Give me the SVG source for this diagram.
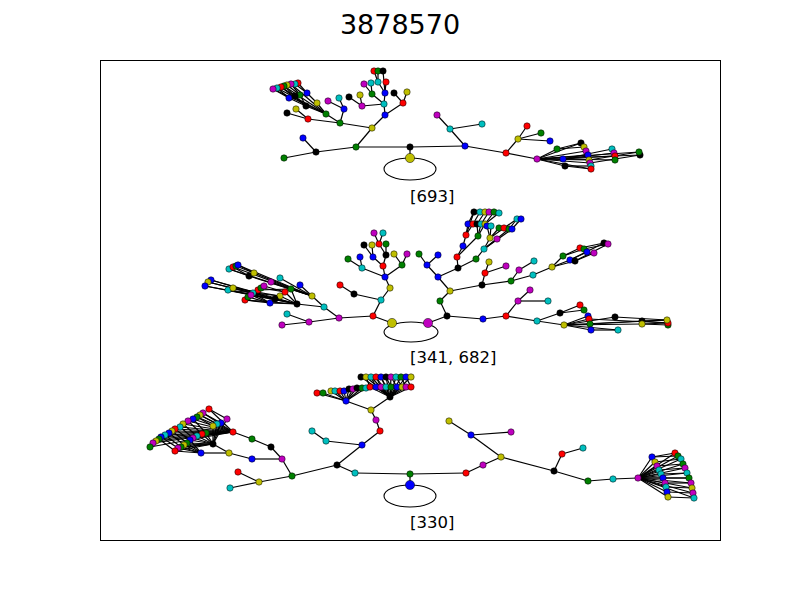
<svg xmlns="http://www.w3.org/2000/svg" width="800" height="600" viewBox="0 0 800 600">
<style>
.e line{stroke:#000;stroke-width:1.2}
.loop{fill:none;stroke:#000;stroke-width:1.1}
circle{stroke:#000;stroke-width:0.5}
.b{fill:#0000ff}.g{fill:#008000}.r{fill:#ff0000}.c{fill:#00bfbf}.m{fill:#bf00bf}.y{fill:#bfbf00}.k{fill:#000}
text{font-family:"DejaVu Sans","Liberation Sans",sans-serif;fill:#000}
</style>
<rect width="800" height="600" fill="#fff"/>
<rect x="100.5" y="60.5" width="620" height="480" fill="none" stroke="#000" stroke-width="1"/>
<text x="400" y="34" font-size="27" text-anchor="middle">3878570</text>
<g id="connectors">
<g class="e">
<line x1="410" y1="158" x2="410" y2="147"/><line x1="410" y1="147" x2="356" y2="147"/><line x1="410" y1="147" x2="465" y2="146"/>
<line x1="356" y1="147" x2="316" y2="152"/><line x1="356" y1="147" x2="372" y2="128"/><line x1="316" y1="152" x2="284" y2="158"/>
<line x1="316" y1="152" x2="303" y2="138"/><line x1="372" y1="128" x2="340" y2="123"/><line x1="372" y1="128" x2="385" y2="115"/>
<line x1="385" y1="115" x2="384" y2="104"/><line x1="385" y1="115" x2="403" y2="103"/><line x1="403" y1="103" x2="394" y2="93"/>
<line x1="403" y1="103" x2="407" y2="92"/><line x1="384" y1="104" x2="385" y2="93"/><line x1="385" y1="93" x2="386" y2="82"/>
<line x1="385" y1="93" x2="378" y2="82"/><line x1="378" y1="82" x2="378" y2="71"/><line x1="378" y1="82" x2="374" y2="71"/>
<line x1="385" y1="93" x2="383" y2="71"/><line x1="384" y1="104" x2="372" y2="94"/><line x1="372" y1="94" x2="364" y2="84"/>
<line x1="372" y1="94" x2="371" y2="83"/><line x1="384" y1="104" x2="362" y2="106"/><line x1="362" y1="106" x2="349" y2="97"/>
<line x1="362" y1="106" x2="360" y2="95"/><line x1="340" y1="123" x2="326" y2="114"/><line x1="340" y1="123" x2="308" y2="119"/>
<line x1="340" y1="123" x2="344" y2="109"/><line x1="344" y1="109" x2="339" y2="98"/><line x1="344" y1="109" x2="328" y2="101"/>
<line x1="308" y1="119" x2="287" y2="113"/><line x1="308" y1="119" x2="296" y2="109"/><line x1="326" y1="114" x2="317" y2="103"/>
<line x1="326" y1="114" x2="306" y2="106"/><line x1="317" y1="103" x2="307" y2="93"/><line x1="306" y1="106" x2="289" y2="98"/>
<line x1="306" y1="106" x2="300" y2="95"/><line x1="306" y1="106" x2="295" y2="96"/><line x1="289" y1="98" x2="273" y2="89"/>
<line x1="289" y1="98" x2="277" y2="88"/><line x1="295" y1="96" x2="281" y2="87"/><line x1="295" y1="96" x2="284" y2="86"/>
<line x1="300" y1="95" x2="287" y2="85"/><line x1="300" y1="95" x2="291" y2="84"/><line x1="307" y1="93" x2="295" y2="84"/>
<line x1="307" y1="93" x2="298" y2="83"/><line x1="326" y1="114" x2="277" y2="88"/><line x1="326" y1="114" x2="284" y2="86"/>
<line x1="326" y1="114" x2="291" y2="84"/><line x1="326" y1="114" x2="273" y2="89"/><line x1="306" y1="106" x2="281" y2="87"/>
<line x1="465" y1="146" x2="450" y2="129"/><line x1="465" y1="146" x2="506" y2="153"/><line x1="450" y1="129" x2="437" y2="115"/>
<line x1="450" y1="129" x2="482" y2="124"/><line x1="506" y1="153" x2="518" y2="139"/><line x1="506" y1="153" x2="537" y2="159"/>
<line x1="518" y1="139" x2="527" y2="126"/><line x1="518" y1="139" x2="541" y2="133"/><line x1="518" y1="139" x2="550" y2="141"/>
<line x1="537" y1="159" x2="557" y2="149"/><line x1="537" y1="159" x2="563" y2="159"/><line x1="537" y1="159" x2="565" y2="166"/>
<line x1="557" y1="149" x2="581" y2="143"/><line x1="557" y1="149" x2="584" y2="147"/><line x1="537" y1="159" x2="586" y2="151"/>
<line x1="537" y1="159" x2="588" y2="155"/><line x1="537" y1="159" x2="589" y2="160"/><line x1="537" y1="159" x2="590" y2="163"/>
<line x1="565" y1="166" x2="591" y2="166"/><line x1="565" y1="166" x2="591" y2="169"/><line x1="563" y1="159" x2="612" y2="149"/>
<line x1="563" y1="159" x2="614" y2="153"/><line x1="563" y1="159" x2="615" y2="156"/><line x1="563" y1="159" x2="615" y2="160"/>
<line x1="537" y1="159" x2="639" y2="152"/><line x1="537" y1="159" x2="640" y2="155"/><line x1="537" y1="159" x2="581" y2="143"/>
<line x1="537" y1="159" x2="591" y2="169"/><line x1="589" y1="160" x2="639" y2="152"/><line x1="590" y1="163" x2="640" y2="155"/>

<line x1="392" y1="323" x2="373" y2="316"/><line x1="428" y1="323" x2="447" y2="316"/><line x1="373" y1="316" x2="339" y2="318"/>
<line x1="373" y1="316" x2="381" y2="300"/><line x1="339" y1="318" x2="309" y2="322"/><line x1="339" y1="318" x2="324" y2="307"/>
<line x1="309" y1="322" x2="282" y2="325"/><line x1="309" y1="322" x2="287" y2="314"/><line x1="324" y1="307" x2="312" y2="296"/>
<line x1="324" y1="307" x2="297" y2="304"/><line x1="312" y1="296" x2="300" y2="285"/><line x1="312" y1="296" x2="280" y2="278"/>
<line x1="312" y1="296" x2="271" y2="282"/><line x1="312" y1="296" x2="249" y2="276"/><line x1="312" y1="296" x2="254" y2="273"/>
<line x1="249" y1="276" x2="229" y2="269"/><line x1="249" y1="276" x2="233" y2="267"/><line x1="254" y1="273" x2="236" y2="266"/>
<line x1="254" y1="273" x2="238" y2="265"/><line x1="312" y1="296" x2="233" y2="267"/><line x1="312" y1="296" x2="238" y2="265"/>
<line x1="312" y1="296" x2="229" y2="269"/>
<line x1="297" y1="304" x2="270" y2="303"/><line x1="297" y1="304" x2="280" y2="296"/><line x1="297" y1="304" x2="275" y2="299"/>
<line x1="297" y1="304" x2="285" y2="292"/><line x1="297" y1="304" x2="291" y2="289"/><line x1="270" y1="303" x2="245" y2="300"/>
<line x1="270" y1="303" x2="248" y2="297"/><line x1="275" y1="299" x2="205" y2="286"/><line x1="275" y1="299" x2="208" y2="282"/>
<line x1="275" y1="299" x2="211" y2="280"/><line x1="297" y1="304" x2="205" y2="286"/><line x1="297" y1="304" x2="211" y2="280"/>
<line x1="297" y1="304" x2="208" y2="282"/><line x1="297" y1="304" x2="228" y2="290"/><line x1="297" y1="304" x2="245" y2="300"/>
<line x1="280" y1="296" x2="228" y2="290"/><line x1="280" y1="296" x2="233" y2="288"/><line x1="285" y1="292" x2="261" y2="288"/>
<line x1="285" y1="292" x2="264" y2="286"/><line x1="291" y1="289" x2="258" y2="290"/><line x1="270" y1="303" x2="253" y2="293"/>
<line x1="270" y1="303" x2="251" y2="295"/>
<line x1="381" y1="300" x2="390" y2="288"/><line x1="381" y1="300" x2="354" y2="294"/><line x1="354" y1="294" x2="340" y2="285"/>
<line x1="390" y1="288" x2="385" y2="277"/><line x1="385" y1="277" x2="362" y2="268"/><line x1="385" y1="277" x2="383" y2="266"/>
<line x1="385" y1="277" x2="402" y2="265"/><line x1="362" y1="268" x2="348" y2="259"/><line x1="362" y1="268" x2="360" y2="257"/>
<line x1="383" y1="266" x2="373" y2="257"/><line x1="383" y1="266" x2="386" y2="255"/><line x1="386" y1="255" x2="386" y2="244"/>
<line x1="386" y1="255" x2="379" y2="244"/><line x1="373" y1="257" x2="372" y2="245"/><line x1="373" y1="257" x2="364" y2="245"/>
<line x1="379" y1="244" x2="374" y2="233"/><line x1="379" y1="244" x2="383" y2="233"/><line x1="402" y1="265" x2="394" y2="254"/>
<line x1="402" y1="265" x2="407" y2="254"/>
<line x1="447" y1="316" x2="440" y2="301"/><line x1="447" y1="316" x2="483" y2="319"/><line x1="483" y1="319" x2="506" y2="316"/>
<line x1="506" y1="316" x2="518" y2="301"/><line x1="506" y1="316" x2="537" y2="321"/><line x1="518" y1="301" x2="530" y2="290"/>
<line x1="518" y1="301" x2="548" y2="301"/><line x1="537" y1="321" x2="560" y2="313"/><line x1="537" y1="321" x2="564" y2="325"/>
<line x1="560" y1="313" x2="580" y2="305"/><line x1="560" y1="313" x2="584" y2="310"/><line x1="564" y1="325" x2="588" y2="316"/>
<line x1="564" y1="325" x2="589" y2="319"/><line x1="564" y1="325" x2="590" y2="324"/><line x1="564" y1="325" x2="591" y2="330"/>
<line x1="591" y1="330" x2="618" y2="330"/><line x1="564" y1="325" x2="615" y2="317"/><line x1="564" y1="325" x2="642" y2="321"/>
<line x1="564" y1="325" x2="642" y2="324"/><line x1="615" y1="317" x2="667" y2="320"/><line x1="642" y1="321" x2="668" y2="323"/>
<line x1="642" y1="324" x2="668" y2="325"/><line x1="642" y1="321" x2="667" y2="320"/><line x1="642" y1="324" x2="668" y2="323"/>
<line x1="564" y1="325" x2="618" y2="330"/><line x1="590" y1="324" x2="667" y2="320"/><line x1="589" y1="319" x2="668" y2="323"/>
<line x1="440" y1="301" x2="450" y2="291"/><line x1="450" y1="291" x2="438" y2="277"/><line x1="450" y1="291" x2="482" y2="285"/>
<line x1="438" y1="277" x2="427" y2="265"/><line x1="438" y1="277" x2="458" y2="268"/><line x1="427" y1="265" x2="419" y2="254"/>
<line x1="427" y1="265" x2="438" y2="255"/><line x1="458" y1="268" x2="457" y2="257"/><line x1="458" y1="268" x2="476" y2="259"/>
<line x1="457" y1="257" x2="463" y2="246"/><line x1="463" y1="246" x2="466" y2="235"/><line x1="466" y1="235" x2="468" y2="224"/>
<line x1="466" y1="235" x2="473" y2="224"/><line x1="457" y1="257" x2="478" y2="236"/><line x1="478" y1="236" x2="477" y2="224"/>
<line x1="478" y1="236" x2="481" y2="224"/><line x1="478" y1="236" x2="485" y2="224"/><line x1="468" y1="224" x2="474" y2="212"/>
<line x1="473" y1="224" x2="480" y2="212"/><line x1="477" y1="224" x2="485" y2="212"/><line x1="481" y1="224" x2="489" y2="212"/>
<line x1="485" y1="224" x2="494" y2="212"/><line x1="485" y1="224" x2="499" y2="213"/><line x1="476" y1="259" x2="484" y2="249"/>
<line x1="466" y1="235" x2="474" y2="212"/>
<line x1="484" y1="249" x2="490" y2="238"/><line x1="484" y1="249" x2="497" y2="239"/><line x1="490" y1="238" x2="487" y2="226"/>
<line x1="490" y1="238" x2="491" y2="226"/><line x1="490" y1="238" x2="499" y2="228"/><line x1="490" y1="238" x2="504" y2="228"/>
<line x1="484" y1="249" x2="509" y2="229"/><line x1="484" y1="249" x2="512" y2="229"/><line x1="509" y1="229" x2="517" y2="219"/>
<line x1="512" y1="229" x2="521" y2="219"/><line x1="504" y1="228" x2="517" y2="219"/>
<line x1="482" y1="285" x2="485" y2="273"/><line x1="482" y1="285" x2="511" y2="281"/><line x1="485" y1="273" x2="489" y2="262"/>
<line x1="485" y1="273" x2="506" y2="266"/><line x1="511" y1="281" x2="519" y2="270"/><line x1="519" y1="270" x2="534" y2="261"/>
<line x1="511" y1="281" x2="533" y2="275"/><line x1="533" y1="275" x2="552" y2="267"/><line x1="552" y1="267" x2="563" y2="256"/>
<line x1="552" y1="267" x2="570" y2="260"/><line x1="552" y1="267" x2="575" y2="261"/><line x1="563" y1="256" x2="580" y2="248"/>
<line x1="563" y1="256" x2="584" y2="249"/><line x1="570" y1="260" x2="587" y2="252"/><line x1="575" y1="261" x2="594" y2="253"/>
<line x1="580" y1="248" x2="604" y2="243"/><line x1="584" y1="249" x2="608" y2="244"/><line x1="570" y1="260" x2="604" y2="243"/>
<line x1="575" y1="261" x2="608" y2="244"/>

<line x1="410" y1="485" x2="410" y2="474"/><line x1="410" y1="474" x2="355" y2="473"/><line x1="410" y1="474" x2="466" y2="473"/>
<line x1="355" y1="473" x2="337" y2="465"/><line x1="337" y1="465" x2="362" y2="445"/><line x1="337" y1="465" x2="292" y2="476"/>
<line x1="362" y1="445" x2="326" y2="441"/><line x1="362" y1="445" x2="380" y2="431"/><line x1="326" y1="441" x2="312" y2="431"/>
<line x1="380" y1="431" x2="376" y2="420"/><line x1="376" y1="420" x2="371" y2="410"/><line x1="371" y1="410" x2="346" y2="401"/>
<line x1="371" y1="410" x2="390" y2="397"/>
<line x1="346" y1="401" x2="317" y2="393"/><line x1="346" y1="401" x2="323" y2="393"/><line x1="346" y1="401" x2="331" y2="391"/>
<line x1="346" y1="401" x2="335" y2="391"/><line x1="346" y1="401" x2="340" y2="391"/><line x1="346" y1="401" x2="344" y2="391"/>
<line x1="346" y1="401" x2="349" y2="389"/><line x1="346" y1="401" x2="353" y2="389"/><line x1="346" y1="401" x2="357" y2="388"/>
<line x1="346" y1="401" x2="362" y2="388"/><line x1="346" y1="401" x2="366" y2="388"/>
<line x1="390" y1="397" x2="370" y2="387"/><line x1="390" y1="397" x2="376" y2="387"/><line x1="390" y1="397" x2="381" y2="387"/>
<line x1="390" y1="397" x2="386" y2="387"/><line x1="390" y1="397" x2="391" y2="387"/><line x1="390" y1="397" x2="397" y2="387"/>
<line x1="390" y1="397" x2="402" y2="387"/><line x1="390" y1="397" x2="406" y2="387"/><line x1="390" y1="397" x2="411" y2="387"/>
<line x1="390" y1="397" x2="361" y2="377"/><line x1="390" y1="397" x2="366" y2="377"/><line x1="390" y1="397" x2="371" y2="377"/>
<line x1="390" y1="397" x2="376" y2="377"/><line x1="390" y1="397" x2="381" y2="377"/><line x1="390" y1="397" x2="386" y2="377"/>
<line x1="390" y1="397" x2="391" y2="377"/><line x1="390" y1="397" x2="396" y2="377"/><line x1="390" y1="397" x2="401" y2="377"/>
<line x1="390" y1="397" x2="406" y2="377"/><line x1="390" y1="397" x2="411" y2="377"/>
<line x1="370" y1="387" x2="366" y2="377"/><line x1="376" y1="387" x2="371" y2="377"/><line x1="381" y1="387" x2="376" y2="377"/>
<line x1="386" y1="387" x2="381" y2="377"/><line x1="391" y1="387" x2="386" y2="377"/><line x1="397" y1="387" x2="391" y2="377"/>
<line x1="402" y1="387" x2="396" y2="377"/><line x1="406" y1="387" x2="401" y2="377"/><line x1="411" y1="387" x2="406" y2="377"/>
<line x1="466" y1="473" x2="483" y2="465"/><line x1="483" y1="465" x2="501" y2="457"/><line x1="501" y1="457" x2="471" y2="435"/>
<line x1="501" y1="457" x2="554" y2="471"/><line x1="471" y1="435" x2="449" y2="421"/><line x1="471" y1="435" x2="511" y2="432"/>
<line x1="554" y1="471" x2="562" y2="454"/><line x1="562" y1="454" x2="583" y2="448"/><line x1="554" y1="471" x2="588" y2="481"/>
<line x1="588" y1="481" x2="613" y2="479"/><line x1="613" y1="479" x2="638" y2="478"/>
<line x1="638" y1="478" x2="652" y2="457"/><line x1="638" y1="478" x2="655" y2="462"/><line x1="638" y1="478" x2="657" y2="466"/>
<line x1="638" y1="478" x2="659" y2="470"/><line x1="638" y1="478" x2="661" y2="474"/><line x1="638" y1="478" x2="663" y2="478"/>
<line x1="638" y1="478" x2="665" y2="483"/><line x1="638" y1="478" x2="666" y2="487"/><line x1="638" y1="478" x2="667" y2="492"/>
<line x1="638" y1="478" x2="668" y2="497"/>
<line x1="638" y1="478" x2="675" y2="453"/><line x1="638" y1="478" x2="678" y2="456"/><line x1="638" y1="478" x2="681" y2="459"/>
<line x1="638" y1="478" x2="683" y2="464"/><line x1="638" y1="478" x2="685" y2="468"/><line x1="638" y1="478" x2="687" y2="473"/>
<line x1="638" y1="478" x2="689" y2="478"/><line x1="638" y1="478" x2="691" y2="483"/><line x1="638" y1="478" x2="692" y2="488"/>
<line x1="638" y1="478" x2="693" y2="493"/><line x1="638" y1="478" x2="694" y2="498"/>
<line x1="652" y1="457" x2="675" y2="453"/><line x1="652" y1="457" x2="678" y2="456"/><line x1="655" y1="462" x2="681" y2="459"/>
<line x1="657" y1="466" x2="683" y2="464"/><line x1="659" y1="470" x2="685" y2="468"/><line x1="661" y1="474" x2="687" y2="473"/>
<line x1="663" y1="478" x2="689" y2="478"/><line x1="665" y1="483" x2="691" y2="483"/><line x1="666" y1="487" x2="692" y2="488"/>
<line x1="667" y1="492" x2="693" y2="493"/><line x1="668" y1="497" x2="694" y2="498"/>
<line x1="292" y1="476" x2="259" y2="482"/><line x1="292" y1="476" x2="282" y2="459"/><line x1="259" y1="482" x2="238" y2="472"/>
<line x1="259" y1="482" x2="230" y2="488"/><line x1="282" y1="459" x2="252" y2="459"/><line x1="282" y1="459" x2="271" y2="447"/>
<line x1="271" y1="447" x2="252" y2="439"/><line x1="252" y1="439" x2="233" y2="432"/><line x1="252" y1="459" x2="229" y2="453"/>
<line x1="229" y1="453" x2="201" y2="453"/><line x1="229" y1="453" x2="213" y2="444"/>
<line x1="233" y1="432" x2="150" y2="447"/><line x1="233" y1="432" x2="153" y2="443"/><line x1="233" y1="432" x2="156" y2="441"/>
<line x1="233" y1="432" x2="159" y2="439"/><line x1="233" y1="432" x2="161" y2="437"/><line x1="233" y1="432" x2="165" y2="435"/>
<line x1="233" y1="432" x2="169" y2="433"/><line x1="233" y1="432" x2="172" y2="431"/><line x1="233" y1="432" x2="175" y2="429"/>
<line x1="233" y1="432" x2="180" y2="427"/><line x1="233" y1="432" x2="183" y2="424"/><line x1="233" y1="432" x2="188" y2="421"/>
<line x1="233" y1="432" x2="193" y2="419"/><line x1="233" y1="432" x2="197" y2="417"/><line x1="233" y1="432" x2="200" y2="415"/>
<line x1="233" y1="432" x2="203" y2="413"/><line x1="233" y1="432" x2="209" y2="409"/>
<line x1="213" y1="444" x2="175" y2="451"/><line x1="213" y1="444" x2="178" y2="448"/><line x1="213" y1="444" x2="181" y2="447"/>
<line x1="213" y1="444" x2="184" y2="445"/><line x1="213" y1="444" x2="187" y2="443"/><line x1="213" y1="444" x2="190" y2="440"/>
<line x1="213" y1="444" x2="193" y2="438"/><line x1="213" y1="444" x2="197" y2="436"/><line x1="213" y1="444" x2="202" y2="434"/>
<line x1="213" y1="444" x2="206" y2="433"/><line x1="213" y1="444" x2="213" y2="426"/><line x1="213" y1="444" x2="217" y2="424"/>
<line x1="213" y1="444" x2="221" y2="423"/><line x1="213" y1="444" x2="227" y2="419"/>
<line x1="201" y1="453" x2="175" y2="451"/><line x1="201" y1="453" x2="178" y2="448"/><line x1="201" y1="453" x2="181" y2="447"/>
<line x1="201" y1="453" x2="184" y2="445"/><line x1="201" y1="453" x2="187" y2="443"/><line x1="201" y1="453" x2="190" y2="440"/>
<line x1="159" y1="439" x2="175" y2="451"/><line x1="161" y1="437" x2="178" y2="448"/><line x1="165" y1="435" x2="181" y2="447"/>
<line x1="169" y1="433" x2="184" y2="445"/><line x1="172" y1="431" x2="187" y2="443"/><line x1="175" y1="429" x2="190" y2="440"/>
<line x1="180" y1="427" x2="193" y2="438"/><line x1="183" y1="424" x2="197" y2="436"/><line x1="188" y1="421" x2="202" y2="434"/>
<line x1="193" y1="419" x2="206" y2="433"/><line x1="197" y1="417" x2="213" y2="426"/><line x1="200" y1="415" x2="217" y2="424"/>
<line x1="203" y1="413" x2="221" y2="423"/><line x1="209" y1="409" x2="227" y2="419"/>
</g>
<ellipse class="loop" cx="410" cy="169" rx="26" ry="11"/>
<ellipse class="loop" cx="411" cy="332" rx="27" ry="10"/>
<ellipse class="loop" cx="410" cy="496" rx="26" ry="11"/>
</g>

<g id="nodes-top">
<g id="a0"><circle class="y" cx="410" cy="158" r="4.6"/></g>
<g id="a1"><circle class="k" cx="410" cy="147" r="3.2"/></g>
<g id="a2"><circle class="g" cx="356" cy="147" r="3.2"/></g>
<g id="a3"><circle class="b" cx="465" cy="146" r="3.2"/></g>
<g id="a4"><circle class="k" cx="316" cy="152" r="3.2"/></g>
<g id="a5"><circle class="g" cx="284" cy="158" r="3.2"/></g>
<g id="a6"><circle class="b" cx="303" cy="138" r="3.2"/></g>
<g id="a7"><circle class="y" cx="372" cy="128" r="3.2"/></g>
<g id="a8"><circle class="g" cx="340" cy="123" r="3.2"/></g>
<g id="a9"><circle class="b" cx="385" cy="115" r="3.2"/></g>
<g id="a10"><circle class="c" cx="384" cy="104" r="3.2"/></g>
<g id="a11"><circle class="r" cx="403" cy="103" r="3.2"/></g>
<g id="a12"><circle class="k" cx="394" cy="93" r="3.2"/></g>
<g id="a13"><circle class="y" cx="407" cy="92" r="3.2"/></g>
<g id="a14"><circle class="b" cx="385" cy="93" r="3.2"/></g>
<g id="a15"><circle class="r" cx="386" cy="82" r="3.2"/></g>
<g id="a16"><circle class="c" cx="378" cy="82" r="3.2"/></g>
<g id="a18"><circle class="r" cx="374" cy="71" r="3.2"/></g>
<g id="a17"><circle class="g" cx="378" cy="71" r="3.2"/></g>
<g id="a19"><circle class="k" cx="383" cy="71" r="3.2"/></g>
<g id="a20"><circle class="g" cx="372" cy="94" r="3.2"/></g>
<g id="a21"><circle class="m" cx="364" cy="84" r="3.2"/></g>
<g id="a22"><circle class="c" cx="371" cy="83" r="3.2"/></g>
<g id="a23"><circle class="m" cx="362" cy="106" r="3.2"/></g>
<g id="a24"><circle class="k" cx="349" cy="97" r="3.2"/></g>
<g id="a25"><circle class="y" cx="360" cy="95" r="3.2"/></g>
<g id="a26"><circle class="g" cx="326" cy="114" r="3.2"/></g>
<g id="a27"><circle class="r" cx="308" cy="119" r="3.2"/></g>
<g id="a28"><circle class="b" cx="344" cy="109" r="3.2"/></g>
<g id="a29"><circle class="c" cx="339" cy="98" r="3.2"/></g>
<g id="a30"><circle class="m" cx="328" cy="101" r="3.2"/></g>
<g id="a31"><circle class="k" cx="287" cy="113" r="3.2"/></g>
<g id="a32"><circle class="y" cx="296" cy="109" r="3.2"/></g>
<g id="a33"><circle class="y" cx="317" cy="103" r="3.2"/></g>
<g id="a34"><circle class="k" cx="306" cy="106" r="3.2"/></g>
<g id="a35"><circle class="b" cx="307" cy="93" r="3.2"/></g>
<g id="a36"><circle class="b" cx="289" cy="98" r="3.2"/></g>
<g id="a37"><circle class="g" cx="300" cy="95" r="3.2"/></g>
<g id="a38"><circle class="k" cx="295" cy="96" r="3.2"/></g>
<g id="a46"><circle class="r" cx="298" cy="83" r="3.2"/></g>
<g id="a45"><circle class="c" cx="295" cy="84" r="3.2"/></g>
<g id="a44"><circle class="m" cx="291" cy="84" r="3.2"/></g>
<g id="a43"><circle class="y" cx="287" cy="85" r="3.2"/></g>
<g id="a42"><circle class="g" cx="284" cy="86" r="3.2"/></g>
<g id="a41"><circle class="r" cx="281" cy="87" r="3.2"/></g>
<g id="a40"><circle class="c" cx="277" cy="88" r="3.2"/></g>
<g id="a39"><circle class="m" cx="273" cy="89" r="3.2"/></g>
<g id="a47"><circle class="c" cx="450" cy="129" r="3.2"/></g>
<g id="a48"><circle class="m" cx="437" cy="115" r="3.2"/></g>
<g id="a49"><circle class="c" cx="482" cy="124" r="3.2"/></g>
<g id="a50"><circle class="r" cx="506" cy="153" r="3.2"/></g>
<g id="a51"><circle class="y" cx="518" cy="139" r="3.2"/></g>
<g id="a52"><circle class="r" cx="527" cy="126" r="3.2"/></g>
<g id="a53"><circle class="g" cx="541" cy="133" r="3.2"/></g>
<g id="a54"><circle class="b" cx="550" cy="141" r="3.2"/></g>
<g id="a55"><circle class="m" cx="537" cy="159" r="3.2"/></g>
<g id="a56"><circle class="g" cx="557" cy="149" r="3.2"/></g>
<g id="a57"><circle class="b" cx="563" cy="159" r="3.2"/></g>
<g id="a58"><circle class="k" cx="565" cy="166" r="3.2"/></g>
<g id="a59"><circle class="k" cx="581" cy="143" r="3.2"/></g>
<g id="a60"><circle class="y" cx="584" cy="147" r="3.2"/></g>
<g id="a61"><circle class="m" cx="586" cy="151" r="3.2"/></g>
<g id="a62"><circle class="b" cx="588" cy="155" r="3.2"/></g>
<g id="a63"><circle class="y" cx="589" cy="160" r="3.2"/></g>
<g id="a64"><circle class="m" cx="590" cy="163" r="3.2"/></g>
<g id="a65"><circle class="c" cx="591" cy="166" r="3.2"/></g>
<g id="a66"><circle class="r" cx="591" cy="169" r="3.2"/></g>
<g id="a67"><circle class="c" cx="612" cy="149" r="3.2"/></g>
<g id="a68"><circle class="m" cx="614" cy="153" r="3.2"/></g>
<g id="a69"><circle class="r" cx="615" cy="156" r="3.2"/></g>
<g id="a70"><circle class="g" cx="615" cy="160" r="3.2"/></g>
<g id="a72"><circle class="k" cx="640" cy="155" r="3.2"/></g>
<g id="a71"><circle class="g" cx="639" cy="152" r="3.2"/></g>
</g>

<g id="nodes-middle">
<g id="b0"><circle class="y" cx="392" cy="323" r="4.6"/></g>
<g id="b1"><circle class="m" cx="428" cy="323" r="4.6"/></g>
<g id="b2"><circle class="r" cx="373" cy="316" r="3.2"/></g>
<g id="b3"><circle class="m" cx="339" cy="318" r="3.2"/></g>
<g id="b4"><circle class="c" cx="381" cy="300" r="3.2"/></g>
<g id="b5"><circle class="m" cx="309" cy="322" r="3.2"/></g>
<g id="b6"><circle class="c" cx="324" cy="307" r="3.2"/></g>
<g id="b7"><circle class="m" cx="282" cy="325" r="3.2"/></g>
<g id="b8"><circle class="c" cx="287" cy="314" r="3.2"/></g>
<g id="b9"><circle class="y" cx="312" cy="296" r="3.2"/></g>
<g id="b10"><circle class="k" cx="297" cy="304" r="3.2"/></g>
<g id="b11"><circle class="b" cx="300" cy="285" r="3.2"/></g>
<g id="b12"><circle class="c" cx="280" cy="278" r="3.2"/></g>
<g id="b13"><circle class="m" cx="271" cy="282" r="3.2"/></g>
<g id="b14"><circle class="k" cx="249" cy="276" r="3.2"/></g>
<g id="b15"><circle class="y" cx="254" cy="273" r="3.2"/></g>
<g id="b16"><circle class="c" cx="229" cy="269" r="3.2"/></g>
<g id="b17"><circle class="r" cx="233" cy="267" r="3.2"/></g>
<g id="b18"><circle class="g" cx="236" cy="266" r="3.2"/></g>
<g id="b19"><circle class="b" cx="238" cy="265" r="3.2"/></g>
<g id="b20"><circle class="b" cx="270" cy="303" r="3.2"/></g>
<g id="b21"><circle class="y" cx="280" cy="296" r="3.2"/></g>
<g id="b22"><circle class="k" cx="275" cy="299" r="3.2"/></g>
<g id="b23"><circle class="r" cx="285" cy="292" r="3.2"/></g>
<g id="b24"><circle class="g" cx="291" cy="289" r="3.2"/></g>
<g id="b25"><circle class="r" cx="258" cy="290" r="3.2"/></g>
<g id="b26"><circle class="r" cx="245" cy="300" r="3.2"/></g>
<g id="b27"><circle class="g" cx="248" cy="297" r="3.2"/></g>
<g id="b30"><circle class="b" cx="211" cy="280" r="3.2"/></g>
<g id="b29"><circle class="y" cx="208" cy="282" r="3.2"/></g>
<g id="b28"><circle class="b" cx="205" cy="286" r="3.2"/></g>
<g id="b31"><circle class="c" cx="228" cy="290" r="3.2"/></g>
<g id="b32"><circle class="y" cx="233" cy="288" r="3.2"/></g>
<g id="b33"><circle class="g" cx="261" cy="288" r="3.2"/></g>
<g id="b34"><circle class="m" cx="264" cy="286" r="3.2"/></g>
<g id="b35"><circle class="c" cx="253" cy="293" r="3.2"/></g>
<g id="b36"><circle class="m" cx="251" cy="295" r="3.2"/></g>
<g id="b37"><circle class="y" cx="390" cy="288" r="3.2"/></g>
<g id="b38"><circle class="k" cx="354" cy="294" r="3.2"/></g>
<g id="b39"><circle class="r" cx="340" cy="285" r="3.2"/></g>
<g id="b40"><circle class="b" cx="385" cy="277" r="3.2"/></g>
<g id="b41"><circle class="c" cx="362" cy="268" r="3.2"/></g>
<g id="b42"><circle class="r" cx="383" cy="266" r="3.2"/></g>
<g id="b43"><circle class="g" cx="402" cy="265" r="3.2"/></g>
<g id="b44"><circle class="g" cx="348" cy="259" r="3.2"/></g>
<g id="b45"><circle class="b" cx="360" cy="257" r="3.2"/></g>
<g id="b46"><circle class="b" cx="373" cy="257" r="3.2"/></g>
<g id="b47"><circle class="k" cx="386" cy="255" r="3.2"/></g>
<g id="b48"><circle class="g" cx="386" cy="244" r="3.2"/></g>
<g id="b49"><circle class="r" cx="379" cy="244" r="3.2"/></g>
<g id="b50"><circle class="y" cx="372" cy="245" r="3.2"/></g>
<g id="b51"><circle class="k" cx="364" cy="245" r="3.2"/></g>
<g id="b52"><circle class="m" cx="374" cy="233" r="3.2"/></g>
<g id="b53"><circle class="c" cx="383" cy="233" r="3.2"/></g>
<g id="b54"><circle class="y" cx="394" cy="254" r="3.2"/></g>
<g id="b55"><circle class="m" cx="407" cy="254" r="3.2"/></g>
<g id="b56"><circle class="k" cx="447" cy="316" r="3.2"/></g>
<g id="b57"><circle class="g" cx="440" cy="301" r="3.2"/></g>
<g id="b58"><circle class="b" cx="483" cy="319" r="3.2"/></g>
<g id="b59"><circle class="r" cx="506" cy="316" r="3.2"/></g>
<g id="b60"><circle class="m" cx="518" cy="301" r="3.2"/></g>
<g id="b61"><circle class="c" cx="537" cy="321" r="3.2"/></g>
<g id="b62"><circle class="m" cx="530" cy="290" r="3.2"/></g>
<g id="b63"><circle class="c" cx="548" cy="301" r="3.2"/></g>
<g id="b64"><circle class="k" cx="560" cy="313" r="3.2"/></g>
<g id="b65"><circle class="y" cx="564" cy="325" r="3.2"/></g>
<g id="b66"><circle class="r" cx="580" cy="305" r="3.2"/></g>
<g id="b67"><circle class="g" cx="584" cy="310" r="3.2"/></g>
<g id="b68"><circle class="b" cx="588" cy="316" r="3.2"/></g>
<g id="b69"><circle class="r" cx="589" cy="319" r="3.2"/></g>
<g id="b70"><circle class="g" cx="590" cy="324" r="3.2"/></g>
<g id="b71"><circle class="b" cx="591" cy="330" r="3.2"/></g>
<g id="b72"><circle class="c" cx="618" cy="330" r="3.2"/></g>
<g id="b73"><circle class="k" cx="615" cy="317" r="3.2"/></g>
<g id="b74"><circle class="k" cx="642" cy="321" r="3.2"/></g>
<g id="b75"><circle class="y" cx="642" cy="324" r="3.2"/></g>
<g id="b77"><circle class="g" cx="668" cy="325" r="3.2"/></g>
<g id="b78"><circle class="r" cx="668" cy="323" r="3.2"/></g>
<g id="b76"><circle class="y" cx="667" cy="320" r="3.2"/></g>
<g id="b79"><circle class="y" cx="450" cy="291" r="3.2"/></g>
<g id="b80"><circle class="b" cx="438" cy="277" r="3.2"/></g>
<g id="b81"><circle class="k" cx="482" cy="285" r="3.2"/></g>
<g id="b82"><circle class="b" cx="427" cy="265" r="3.2"/></g>
<g id="b83"><circle class="k" cx="458" cy="268" r="3.2"/></g>
<g id="b84"><circle class="g" cx="419" cy="254" r="3.2"/></g>
<g id="b85"><circle class="b" cx="438" cy="255" r="3.2"/></g>
<g id="b86"><circle class="r" cx="457" cy="257" r="3.2"/></g>
<g id="b87"><circle class="g" cx="476" cy="259" r="3.2"/></g>
<g id="b88"><circle class="b" cx="463" cy="246" r="3.2"/></g>
<g id="b89"><circle class="r" cx="466" cy="235" r="3.2"/></g>
<g id="b91"><circle class="k" cx="474" cy="212" r="3.2"/></g>
<g id="b92"><circle class="c" cx="480" cy="212" r="3.2"/></g>
<g id="b93"><circle class="y" cx="485" cy="212" r="3.2"/></g>
<g id="b94"><circle class="m" cx="489" cy="212" r="3.2"/></g>
<g id="b95"><circle class="g" cx="494" cy="212" r="3.2"/></g>
<g id="b96"><circle class="c" cx="499" cy="213" r="3.2"/></g>
<g id="b90"><circle class="b" cx="468" cy="224" r="3.2"/></g>
<g id="b97"><circle class="r" cx="473" cy="224" r="3.2"/></g>
<g id="b98"><circle class="k" cx="477" cy="224" r="3.2"/></g>
<g id="b99"><circle class="c" cx="481" cy="224" r="3.2"/></g>
<g id="b100"><circle class="y" cx="485" cy="224" r="3.2"/></g>
<g id="b106"><circle class="g" cx="478" cy="236" r="3.2"/></g>
<g id="b113"><circle class="c" cx="517" cy="219" r="3.2"/></g>
<g id="b114"><circle class="b" cx="521" cy="219" r="3.2"/></g>
<g id="b107"><circle class="b" cx="487" cy="226" r="3.2"/></g>
<g id="b108"><circle class="c" cx="491" cy="226" r="3.2"/></g>
<g id="b109"><circle class="g" cx="499" cy="228" r="3.2"/></g>
<g id="b110"><circle class="r" cx="504" cy="228" r="3.2"/></g>
<g id="b111"><circle class="g" cx="509" cy="229" r="3.2"/></g>
<g id="b112"><circle class="b" cx="512" cy="229" r="3.2"/></g>
<g id="b101"><circle class="c" cx="484" cy="249" r="3.2"/></g>
<g id="b102"><circle class="y" cx="490" cy="238" r="3.2"/></g>
<g id="b103"><circle class="m" cx="497" cy="239" r="3.2"/></g>
<g id="b115"><circle class="r" cx="485" cy="273" r="3.2"/></g>
<g id="b116"><circle class="g" cx="511" cy="281" r="3.2"/></g>
<g id="b117"><circle class="y" cx="489" cy="262" r="3.2"/></g>
<g id="b118"><circle class="m" cx="506" cy="266" r="3.2"/></g>
<g id="b119"><circle class="m" cx="519" cy="270" r="3.2"/></g>
<g id="b120"><circle class="c" cx="533" cy="275" r="3.2"/></g>
<g id="b121"><circle class="c" cx="534" cy="261" r="3.2"/></g>
<g id="b122"><circle class="y" cx="552" cy="267" r="3.2"/></g>
<g id="b123"><circle class="g" cx="563" cy="256" r="3.2"/></g>
<g id="b124"><circle class="b" cx="570" cy="260" r="3.2"/></g>
<g id="b125"><circle class="k" cx="575" cy="261" r="3.2"/></g>
<g id="b126"><circle class="r" cx="580" cy="248" r="3.2"/></g>
<g id="b127"><circle class="g" cx="584" cy="249" r="3.2"/></g>
<g id="b128"><circle class="b" cx="587" cy="252" r="3.2"/></g>
<g id="b129"><circle class="m" cx="594" cy="253" r="3.2"/></g>
<g id="b130"><circle class="k" cx="604" cy="243" r="3.2"/></g>
<g id="b131"><circle class="m" cx="608" cy="244" r="3.2"/></g>
</g>

<g id="nodes-bottom">
<g id="c0"><circle class="b" cx="410" cy="485" r="4.6"/></g>
<g id="c1"><circle class="g" cx="410" cy="474" r="3.2"/></g>
<g id="c2"><circle class="c" cx="355" cy="473" r="3.2"/></g>
<g id="c3"><circle class="r" cx="466" cy="473" r="3.2"/></g>
<g id="c4"><circle class="k" cx="337" cy="465" r="3.2"/></g>
<g id="c5"><circle class="b" cx="362" cy="445" r="3.2"/></g>
<g id="c6"><circle class="c" cx="326" cy="441" r="3.2"/></g>
<g id="c7"><circle class="c" cx="312" cy="431" r="3.2"/></g>
<g id="c8"><circle class="r" cx="380" cy="431" r="3.2"/></g>
<g id="c9"><circle class="m" cx="376" cy="420" r="3.2"/></g>
<g id="c10"><circle class="y" cx="371" cy="410" r="3.2"/></g>
<g id="c11"><circle class="b" cx="346" cy="401" r="3.2"/></g>
<g id="c12"><circle class="k" cx="390" cy="397" r="3.2"/></g>
<g id="c11f1"><circle class="r" cx="317" cy="393" r="3.2"/></g>
<g id="c11f2"><circle class="g" cx="323" cy="393" r="3.2"/></g>
<g id="c11f3"><circle class="y" cx="331" cy="391" r="3.2"/></g>
<g id="c11f4"><circle class="c" cx="335" cy="391" r="3.2"/></g>
<g id="c11f5"><circle class="r" cx="340" cy="391" r="3.2"/></g>
<g id="c11f6"><circle class="b" cx="344" cy="391" r="3.2"/></g>
<g id="c11f7"><circle class="k" cx="349" cy="389" r="3.2"/></g>
<g id="c11f8"><circle class="m" cx="353" cy="389" r="3.2"/></g>
<g id="c11f9"><circle class="k" cx="357" cy="388" r="3.2"/></g>
<g id="c11f10"><circle class="g" cx="362" cy="388" r="3.2"/></g>
<g id="c11f11"><circle class="c" cx="366" cy="388" r="3.2"/></g>
<g id="c12t1"><circle class="k" cx="361" cy="377" r="3.2"/></g>
<g id="c12t2"><circle class="y" cx="366" cy="377" r="3.2"/></g>
<g id="c12t3"><circle class="c" cx="371" cy="377" r="3.2"/></g>
<g id="c12t4"><circle class="r" cx="376" cy="377" r="3.2"/></g>
<g id="c12t5"><circle class="b" cx="381" cy="377" r="3.2"/></g>
<g id="c12t6"><circle class="k" cx="386" cy="377" r="3.2"/></g>
<g id="c12t7"><circle class="m" cx="391" cy="377" r="3.2"/></g>
<g id="c12t8"><circle class="c" cx="396" cy="377" r="3.2"/></g>
<g id="c12t9"><circle class="g" cx="401" cy="377" r="3.2"/></g>
<g id="c12t10"><circle class="b" cx="406" cy="377" r="3.2"/></g>
<g id="c12t11"><circle class="y" cx="411" cy="377" r="3.2"/></g>
<g id="c12s1"><circle class="r" cx="370" cy="387" r="3.2"/></g>
<g id="c12s2"><circle class="b" cx="376" cy="387" r="3.2"/></g>
<g id="c12s3"><circle class="m" cx="381" cy="387" r="3.2"/></g>
<g id="c12s4"><circle class="c" cx="386" cy="387" r="3.2"/></g>
<g id="c12s5"><circle class="g" cx="391" cy="387" r="3.2"/></g>
<g id="c12s6"><circle class="b" cx="397" cy="387" r="3.2"/></g>
<g id="c12s7"><circle class="y" cx="402" cy="387" r="3.2"/></g>
<g id="c12s8"><circle class="m" cx="406" cy="387" r="3.2"/></g>
<g id="c12s9"><circle class="r" cx="411" cy="387" r="3.2"/></g>
<g id="c13"><circle class="m" cx="483" cy="465" r="3.2"/></g>
<g id="c14"><circle class="y" cx="501" cy="457" r="3.2"/></g>
<g id="c15"><circle class="b" cx="471" cy="435" r="3.2"/></g>
<g id="c16"><circle class="y" cx="449" cy="421" r="3.2"/></g>
<g id="c17"><circle class="m" cx="511" cy="432" r="3.2"/></g>
<g id="c18"><circle class="k" cx="554" cy="471" r="3.2"/></g>
<g id="c19"><circle class="r" cx="562" cy="454" r="3.2"/></g>
<g id="c20"><circle class="c" cx="583" cy="448" r="3.2"/></g>
<g id="c21"><circle class="g" cx="588" cy="481" r="3.2"/></g>
<g id="c22"><circle class="c" cx="613" cy="479" r="3.2"/></g>
<g id="c23"><circle class="m" cx="638" cy="478" r="3.2"/></g>
<g id="c23o1"><circle class="r" cx="675" cy="453" r="3.2"/></g>
<g id="c23o2"><circle class="g" cx="678" cy="456" r="3.2"/></g>
<g id="c23o3"><circle class="c" cx="681" cy="459" r="3.2"/></g>
<g id="c23o4"><circle class="g" cx="683" cy="464" r="3.2"/></g>
<g id="c23o5"><circle class="m" cx="685" cy="468" r="3.2"/></g>
<g id="c23o6"><circle class="c" cx="687" cy="473" r="3.2"/></g>
<g id="c23o7"><circle class="g" cx="689" cy="478" r="3.2"/></g>
<g id="c23o8"><circle class="m" cx="691" cy="483" r="3.2"/></g>
<g id="c23o9"><circle class="y" cx="692" cy="488" r="3.2"/></g>
<g id="c23o10"><circle class="m" cx="693" cy="493" r="3.2"/></g>
<g id="c23o11"><circle class="c" cx="694" cy="498" r="3.2"/></g>
<g id="c23i1"><circle class="b" cx="652" cy="457" r="3.2"/></g>
<g id="c23i2"><circle class="y" cx="655" cy="462" r="3.2"/></g>
<g id="c23i3"><circle class="m" cx="657" cy="466" r="3.2"/></g>
<g id="c23i4"><circle class="c" cx="659" cy="470" r="3.2"/></g>
<g id="c23i5"><circle class="c" cx="661" cy="474" r="3.2"/></g>
<g id="c23i6"><circle class="b" cx="663" cy="478" r="3.2"/></g>
<g id="c23i7"><circle class="m" cx="665" cy="483" r="3.2"/></g>
<g id="c23i8"><circle class="c" cx="666" cy="487" r="3.2"/></g>
<g id="c23i9"><circle class="b" cx="667" cy="492" r="3.2"/></g>
<g id="c23i10"><circle class="y" cx="668" cy="497" r="3.2"/></g>
<g id="c25"><circle class="g" cx="292" cy="476" r="3.2"/></g>
<g id="c26"><circle class="y" cx="259" cy="482" r="3.2"/></g>
<g id="c27"><circle class="m" cx="282" cy="459" r="3.2"/></g>
<g id="c28"><circle class="r" cx="238" cy="472" r="3.2"/></g>
<g id="c29"><circle class="c" cx="230" cy="488" r="3.2"/></g>
<g id="c30"><circle class="b" cx="252" cy="459" r="3.2"/></g>
<g id="c31"><circle class="k" cx="271" cy="447" r="3.2"/></g>
<g id="c32"><circle class="g" cx="252" cy="439" r="3.2"/></g>
<g id="c33"><circle class="r" cx="233" cy="432" r="3.2"/></g>
<g id="c34"><circle class="y" cx="229" cy="453" r="3.2"/></g>
<g id="c35"><circle class="b" cx="201" cy="453" r="3.2"/></g>
<g id="c36"><circle class="k" cx="213" cy="444" r="3.2"/></g>
<g id="c33o17"><circle class="r" cx="209" cy="409" r="3.2"/></g>
<g id="c33o16"><circle class="m" cx="203" cy="413" r="3.2"/></g>
<g id="c33o15"><circle class="y" cx="200" cy="415" r="3.2"/></g>
<g id="c33o14"><circle class="g" cx="197" cy="417" r="3.2"/></g>
<g id="c33o13"><circle class="b" cx="193" cy="419" r="3.2"/></g>
<g id="c33o12"><circle class="m" cx="188" cy="421" r="3.2"/></g>
<g id="c33o11"><circle class="y" cx="183" cy="424" r="3.2"/></g>
<g id="c33o10"><circle class="c" cx="180" cy="427" r="3.2"/></g>
<g id="c33o9"><circle class="r" cx="175" cy="429" r="3.2"/></g>
<g id="c33o8"><circle class="y" cx="172" cy="431" r="3.2"/></g>
<g id="c33o7"><circle class="b" cx="169" cy="433" r="3.2"/></g>
<g id="c33o6"><circle class="c" cx="165" cy="435" r="3.2"/></g>
<g id="c33o5"><circle class="b" cx="161" cy="437" r="3.2"/></g>
<g id="c33o4"><circle class="g" cx="159" cy="439" r="3.2"/></g>
<g id="c33o3"><circle class="y" cx="156" cy="441" r="3.2"/></g>
<g id="c33o2"><circle class="m" cx="153" cy="443" r="3.2"/></g>
<g id="c33o1"><circle class="g" cx="150" cy="447" r="3.2"/></g>
<g id="c36i14"><circle class="m" cx="227" cy="419" r="3.2"/></g>
<g id="c36i13"><circle class="b" cx="221" cy="423" r="3.2"/></g>
<g id="c36i12"><circle class="c" cx="217" cy="424" r="3.2"/></g>
<g id="c36i11"><circle class="y" cx="213" cy="426" r="3.2"/></g>
<g id="c36i10"><circle class="g" cx="206" cy="433" r="3.2"/></g>
<g id="c36i9"><circle class="r" cx="202" cy="434" r="3.2"/></g>
<g id="c36i8"><circle class="c" cx="197" cy="436" r="3.2"/></g>
<g id="c36i7"><circle class="m" cx="193" cy="438" r="3.2"/></g>
<g id="c36i6"><circle class="b" cx="190" cy="440" r="3.2"/></g>
<g id="c36i5"><circle class="g" cx="187" cy="443" r="3.2"/></g>
<g id="c36i4"><circle class="y" cx="184" cy="445" r="3.2"/></g>
<g id="c36i3"><circle class="g" cx="181" cy="447" r="3.2"/></g>
<g id="c36i2"><circle class="m" cx="178" cy="448" r="3.2"/></g>
<g id="c36i1"><circle class="r" cx="175" cy="451" r="3.2"/></g>
</g>

<g id="labels" font-size="16.5">
<text x="410" y="202">[693]</text>
<text x="410" y="363">[341, 682]</text>
<text x="410" y="528">[330]</text>
</g>
</svg>
